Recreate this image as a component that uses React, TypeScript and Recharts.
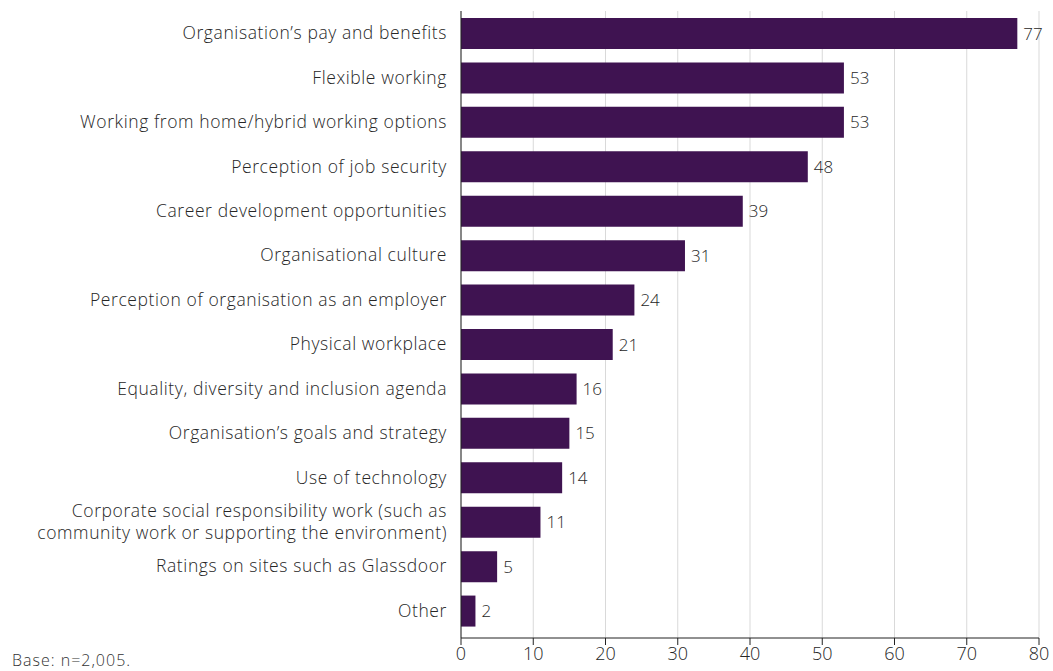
import { BarChart, Bar, XAxis, YAxis, CartesianGrid, LabelList } from 'recharts'

const categories = [
  'Organisation’s pay and benefits',
  'Flexible working',
  'Working from home/hybrid working options',
  'Perception of job security',
  'Career development opportunities',
  'Organisational culture',
  'Perception of organisation as an employer',
  'Physical workplace',
  'Equality, diversity and inclusion agenda',
  'Organisation’s goals and strategy',
  'Use of technology',
  'Corporate social responsibility work (such as\ncommunity work or supporting the environment)',
  'Ratings on sites such as Glassdoor',
  'Other',
]

const values = [77, 53, 53, 48, 39, 31, 24, 21, 16, 15, 14, 11, 5, 2]

const xTicks = [0, 10, 20, 30, 40, 50, 60, 70, 80]

const data = categories.map((name, i) => ({ name, value: values[i] }))

const FONT = '"Open Sans", sans-serif'
const TEXT = '#262626'

function CategoryTick({ x, y, payload }: any) {
  const lines = String(payload.value).split('\n')
  const lh = 22
  const start = -((lines.length - 1) * lh) / 2
  return (
    <text
      x={x}
      y={y}
      textAnchor="end"
      fill={TEXT}
      fontSize={17.5}
      fontFamily={FONT}
      fontWeight={300}
      letterSpacing={0.6}
    >
      {lines.map((l, i) => (
        <tspan key={i} x={x} dy={i === 0 ? start + 6 : lh}>
          {l}
        </tspan>
      ))}
    </text>
  )
}

export default function App() {
  return (
    <div style={{ position: 'absolute', left: 0, top: 0, width: 1053, height: 671, background: '#fff', overflow: 'hidden' }}>
      <BarChart
        width={1053}
        height={671}
        data={data}
        layout="vertical"
        margin={{ top: 11, right: 14, bottom: 3, left: 0 }}
      >
        <CartesianGrid horizontal={false} stroke="#d9d9d9" />
        <XAxis
          type="number"
          domain={[0, 80]}
          ticks={xTicks}
          height={30}
          axisLine={{ stroke: '#222' }}
          tickLine={{ stroke: '#222' }}
          tickSize={7}
          tick={{ fontSize: 18, fill: TEXT, fontFamily: FONT, fontWeight: 300 }}
        />
        <YAxis
          type="category"
          dataKey="name"
          width={461}
          padding={{ top: 0, bottom: 5 }}
          axisLine={{ stroke: '#222' }}
          tickLine={false}
          tickMargin={8}
          tick={<CategoryTick />}
          interval={0}
        />
        <Bar dataKey="value" fill="#3f1351" barSize={31} isAnimationActive={false}>
          <LabelList
            dataKey="value"
            position="right"
            offset={6}
            fill={TEXT}
            fontSize={17}
            fontFamily={FONT}
            fontWeight={300}
          />
        </Bar>
      </BarChart>
      <div
        style={{
          position: 'absolute',
          left: 12,
          top: 651,
          height: 19,
          lineHeight: '19px',
          fontSize: 16,
          letterSpacing: 1,
          color: '#333',
          fontFamily: FONT,
          fontWeight: 300,
          whiteSpace: 'nowrap',
        }}
      >
        Base: n=2,005.
      </div>
    </div>
  )
}
